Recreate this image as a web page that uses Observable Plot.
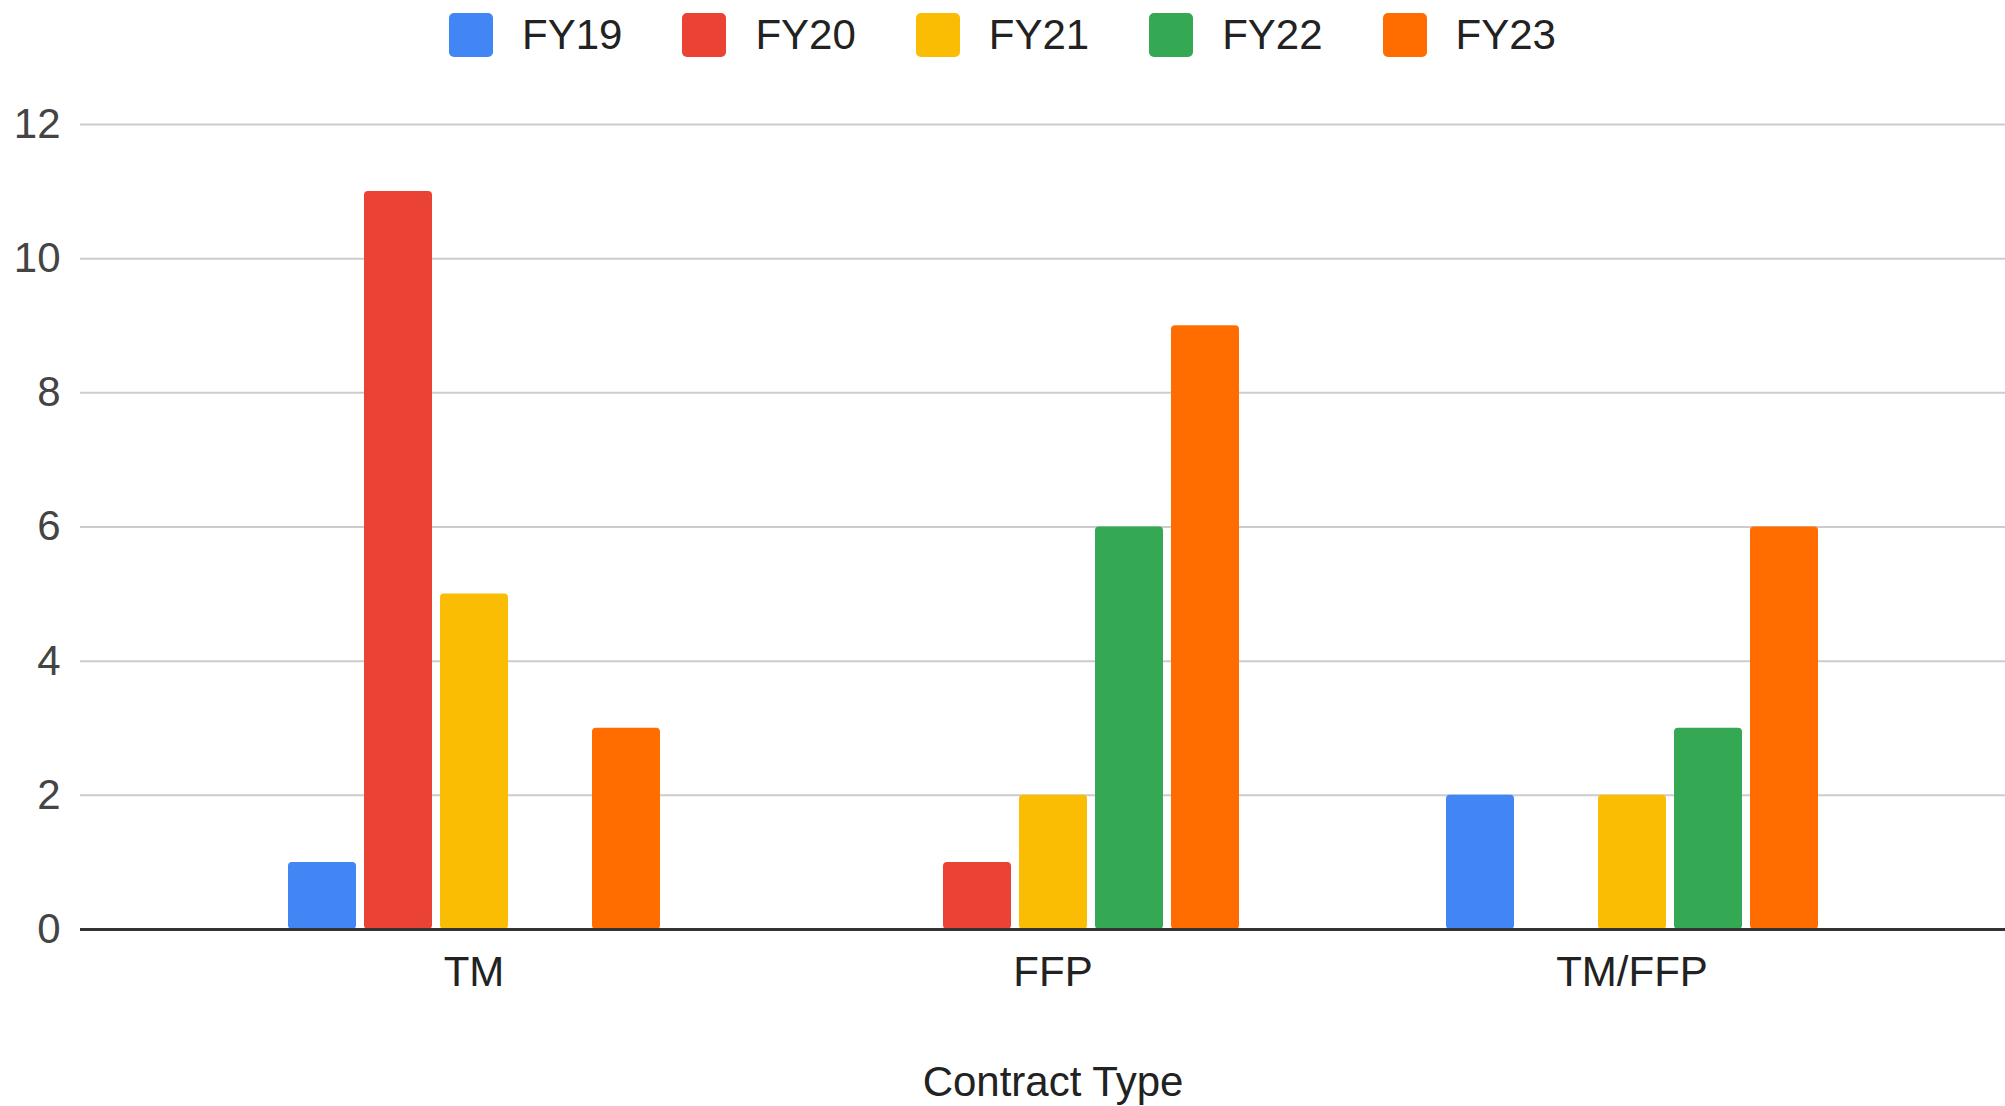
<!DOCTYPE html>
<html>
<head>
<meta charset="utf-8">
<script src="https://cdn.jsdelivr.net/npm/d3@7"></script>
<script src="https://cdn.jsdelivr.net/npm/@observablehq/plot@0.6"></script>
<style>
  html, body { margin: 0; padding: 0; background: #fff; }
  body { width: 2005px; height: 1106px; overflow: hidden; font-family: "Liberation Sans", Arial, sans-serif; }
  #legend { height: 70px; display: flex; justify-content: center; align-items: center; gap: 60px; }
  .item { display: flex; align-items: center; gap: 29px; font-size: 42px; color: #222; }
  .sw { width: 44px; height: 44px; border-radius: 5px; }
  #chart { position: relative; width: 2005px; height: 1036px; }
  #chart svg { display: block; position: absolute; left: 0; top: 0; }
</style>
</head>
<body>
<div id="legend"></div>
<div id="chart"></div>
<script>
const categories = ["TM", "FFP", "TM/FFP"];
const years = ["FY19", "FY20", "FY21", "FY22", "FY23"];
const colors = ["#4285F4", "#EA4335", "#FBBC04", "#34A853", "#FF6D01"];
const FY19 = [1, 0, 2];
const FY20 = [11, 1, 0];
const FY21 = [5, 2, 2];
const FY22 = [0, 6, 3];
const FY23 = [3, 9, 6];
const yTicks = [0, 2, 4, 6, 8, 10, 12];
const axisTitle = "Contract Type";

const series = {FY19, FY20, FY21, FY22, FY23};
const data = [];
categories.forEach((c, i) => {
  years.forEach(y => {
    const v = series[y][i];
    if (v > 0) data.push({category: c, year: y, value: v});
  });
});

// legend
const legend = document.getElementById("legend");
years.forEach((y, i) => {
  const it = document.createElement("div");
  it.className = "item";
  const sw = document.createElement("div");
  sw.className = "sw";
  sw.style.background = colors[i];
  const t = document.createElement("span");
  t.textContent = y;
  it.appendChild(sw); it.appendChild(t);
  legend.appendChild(it);
});

const common = {
  width: 2005,
  height: 1036,
  marginLeft: 80,
  marginRight: 0,
  marginTop: 54,
  marginBottom: 177,
  y: {domain: [0, 12], axis: null}
};
const band = {domain: categories, paddingInner: 0.19, paddingOuter: 0.2555, align: 0.535};
const font = {fontFamily: "'Liberation Sans', Arial, sans-serif", fontSize: "42px", color: "#222"};

// background layer: grid, axes, baseline, axis title
const back = Plot.plot({
  ...common,
  style: {...font, background: "#fff"},
  x: {type: "band", ...band, axis: null},
  marks: [
    Plot.ruleY(yTicks.filter(d => d > 0), {stroke: "#cccccc", strokeWidth: 2}),
    Plot.axisY({ticks: yTicks, tickSize: 0, tickPadding: 20, color: "#444", label: null}),
    Plot.axisX({tickSize: 0, tickPadding: 27, color: "#222", label: null}),
    Plot.text([axisTitle], {x: [categories[1]], frameAnchor: "bottom", dy: 153, lineAnchor: "middle", textAnchor: "middle", fill: "#222", text: d => d}),
    Plot.ruleY([0], {stroke: "#333333", strokeWidth: 3})
  ]
});

// foreground layer: grouped bars
const front = Plot.plot({
  ...common,
  style: {...font, background: "transparent"},
  fx: {...band, axis: null},
  x: {domain: years, paddingInner: 0.1055, paddingOuter: 0.611, axis: null},
  color: {domain: years, range: colors},
  marks: [
    Plot.barY(data, {fx: "category", x: "year", y: "value", fill: "year", rx: 4}),
    Plot.ruleY([0], {stroke: "#333333", strokeWidth: 3})
  ]
});

const el = document.getElementById("chart");
el.appendChild(back);
el.appendChild(front);
</script>
</body>
</html>
